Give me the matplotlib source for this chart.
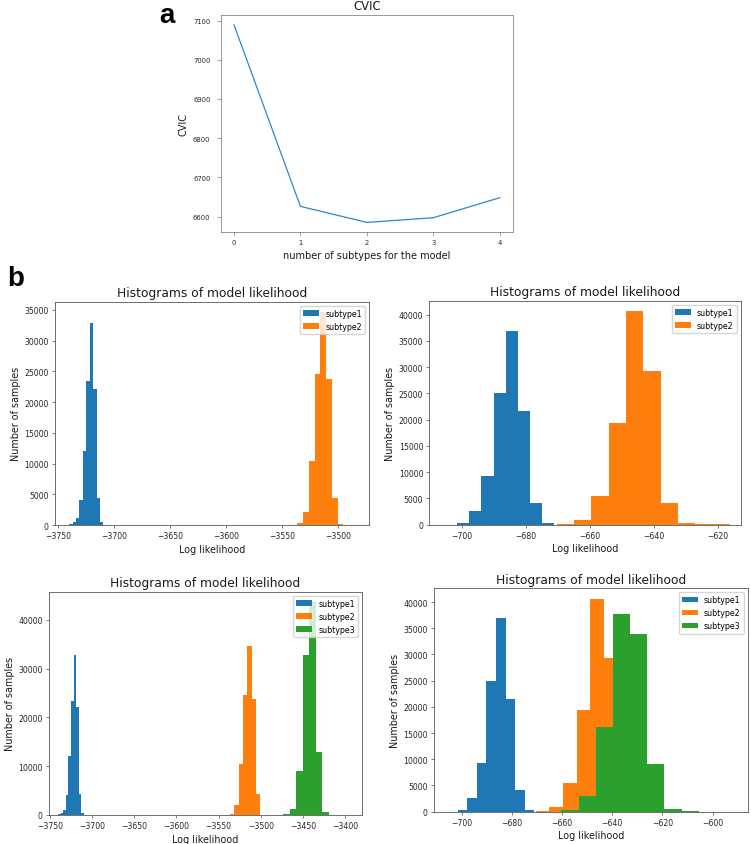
import numpy as np
import matplotlib
matplotlib.use('Agg')
import matplotlib.pyplot as plt

W, H = 751, 845

# ---------------- data ----------------
n_subtypes = [0, 1, 2, 3, 4]
cvic_values = [7089, 6626, 6585, 6597, 6648]

subtype_labels = ['subtype1', 'subtype2', 'subtype3']
colors = ['#1f77b4', '#ff7f0e', '#2ca02c']

# wide-range models (log likelihood ~ -3700 .. -3400): bin range and counts (10 bins)
wide_sub1_range = (-3740.4, -3709.8)
wide_sub1_counts = [150, 450, 1100, 4100, 12000, 23400, 32850, 22100, 4400, 450]
wide_sub2_range = (-3536.4, -3485.0)
wide_sub2_counts = [300, 2050, 10430, 24640, 34600, 23770, 4380, 100, 30, 10]
wide_sub3_range = (-3473.3, -3396.0)
wide_sub3_counts = [300, 1230, 9090, 32750, 43600, 12850, 550, 100, 50, 50]

# narrow-range models (log likelihood ~ -700 .. -600)
narrow_sub1_range = (-705.3, -667.3)
narrow_sub1_counts = [30, 350, 2600, 9200, 25000, 36900, 21600, 4200, 250, 20]
narrow_sub2_range = (-670.4, -616.3)
narrow_sub2_counts = [100, 900, 5400, 19400, 40600, 29300, 4200, 300, 50, 50]
narrow_sub3_range = (-660.2, -591.8)
narrow_sub3_counts = [250, 2930, 16110, 37640, 33820, 9110, 510, 50, 30, 20]

hist_title = 'Histograms of model likelihood'
hist_xlabel = 'Log likelihood'
hist_ylabel = 'Number of samples'

# ---------------- figure ----------------
fig = plt.figure(figsize=(W / 100, H / 100), dpi=100)


def add_ax(left, right, top, bottom):
    return fig.add_axes([left / W, 1 - bottom / H, (right - left) / W, (bottom - top) / H])


def style(ax, s, tick_fs):
    for sp in ax.spines.values():
        sp.set_linewidth(0.8 * s * 1.2)
        sp.set_color('0.35')
    ax.tick_params(length=3.5 * s, width=0.8 * s, pad=3.5 * s, labelsize=tick_fs,
                   color='0.3', labelcolor='0.15')


# --- panel a ---
sa = 0.45
axa = add_ax(220.7, 513, 16, 233.3)
axa.plot(n_subtypes, cvic_values, color='#2f86c8', lw=0.9)
axa.set_xticks(n_subtypes)
axa.set_yticks([6600, 6700, 6800, 6900, 7000, 7100])
style(axa, sa, 4.9)
axa.tick_params(length=2.9)
axa.tick_params(axis='x', pad=2.0)
axa.tick_params(axis='y', pad=4.5)
axa.set_title('CVIC', fontsize=8.4, pad=4, color='0.1')
axa.set_xlabel('number of subtypes for the model', fontsize=7.0, labelpad=3.5, color='0.1')
axa.set_ylabel('CVIC', fontsize=7.0, labelpad=3, color='0.1')

# --- histogram panels ---
sh = 0.63


def hist_panel(box, xlim, ranges, counts_list, xticks, yticks):
    ax = add_ax(*box)
    for i, (rng, counts) in enumerate(zip(ranges, counts_list)):
        edges = np.linspace(rng[0], rng[1], len(counts) + 1)
        centers = 0.5 * (edges[:-1] + edges[1:])
        ax.hist(centers, bins=edges, weights=counts, color=colors[i], label=subtype_labels[i])
    ax.set_xlim(*xlim)
    ax.set_xticks(xticks)
    ax.set_yticks(yticks)
    style(ax, sh, 5.6)
    ax.set_title(hist_title, fontsize=8.8, pad=6 * sh, color='0.1')
    ax.set_xlabel(hist_xlabel, fontsize=6.9, labelpad=4 * sh, color='0.1')
    ax.set_ylabel(hist_ylabel, fontsize=6.9, labelpad=4 * sh, color='0.1')
    ax.legend(loc='upper right', fontsize=5.7, borderaxespad=0.5)
    return ax


hist_panel((55, 369, 302.7, 526), (-3753, -3472.5),
           [wide_sub1_range, wide_sub2_range],
           [wide_sub1_counts, wide_sub2_counts],
           [-3750, -3700, -3650, -3600, -3550, -3500],
           [0, 5000, 10000, 15000, 20000, 25000, 30000, 35000])

hist_panel((429.3, 740.7, 301.7, 525.7), (-710.2, -612.9),
           [narrow_sub1_range, narrow_sub2_range],
           [narrow_sub1_counts, narrow_sub2_counts],
           [-700, -680, -660, -640, -620],
           [0, 5000, 10000, 15000, 20000, 25000, 30000, 35000, 40000])

hist_panel((48.7, 362, 592.7, 816), (-3751.6, -3379.9),
           [wide_sub1_range, wide_sub2_range, wide_sub3_range],
           [wide_sub1_counts, wide_sub2_counts, wide_sub3_counts],
           [-3750, -3700, -3650, -3600, -3550, -3500, -3450, -3400],
           [0, 10000, 20000, 30000, 40000])

hist_panel((434, 747.7, 589.3, 812.7), (-711, -586),
           [narrow_sub1_range, narrow_sub2_range, narrow_sub3_range],
           [narrow_sub1_counts, narrow_sub2_counts, narrow_sub3_counts],
           [-700, -680, -660, -640, -620, -600],
           [0, 5000, 10000, 15000, 20000, 25000, 30000, 35000, 40000])

# panel letters
fig.text(159 / W, 1 - 23 / H, 'a', fontsize=20, fontweight='bold',
         family='Liberation Sans', ha='left', va='baseline')
fig.text(7 / W, 1 - 286 / H, 'b', fontsize=20, fontweight='bold',
         family='Liberation Sans', ha='left', va='baseline')

fig.savefig('out.png', dpi=100)
